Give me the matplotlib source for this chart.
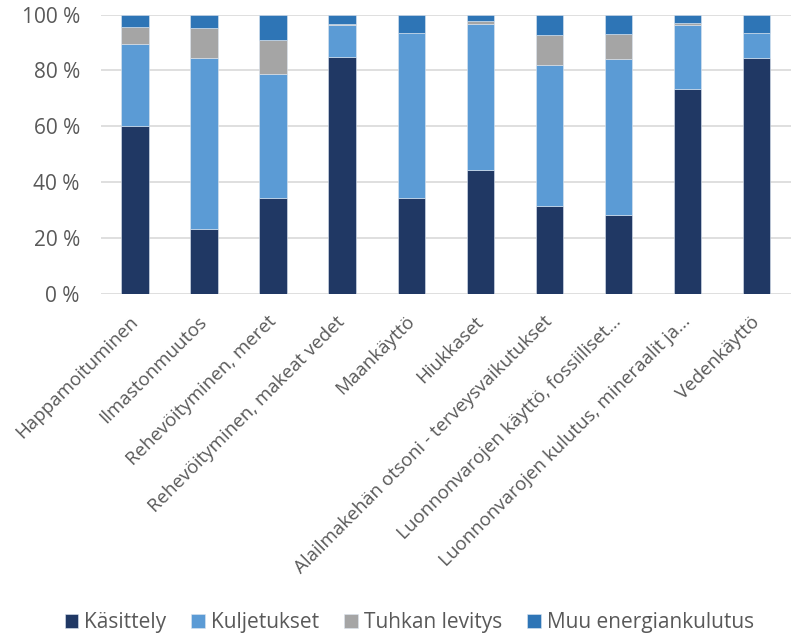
import matplotlib.pyplot as plt
import numpy as np

plt.rcParams['font.family'] = ['Open Sans', 'DejaVu Sans']

categories = ['Happamoituminen', 'Ilmastonmuutos', 'Rehevöityminen, meret',
              'Rehevöityminen, makeat vedet', 'Maankäyttö', 'Hiukkaset',
              'Alailmakehän otsoni - terveysvaikutukset',
              'Luonnonvarojen käyttö, fossiiliset...',
              'Luonnonvarojen kulutus, mineraalit ja...', 'Vedenkäyttö']

kasittely = [60.1, 23.4, 34.2, 84.7, 34.5, 44.5, 31.4, 28.4, 73.5, 84.6]
kuljetukset = [29.5, 61.2, 44.7, 11.5, 58.8, 52.3, 50.7, 55.7, 22.9, 8.7]
tuhka = [6.0, 10.7, 11.9, 0.3, 0.2, 0.9, 10.6, 8.9, 0.6, 0.0]
muu = [4.4, 4.7, 9.2, 3.5, 6.5, 2.3, 7.3, 7.0, 3.0, 6.7]

series = [('Käsittely', kasittely, '#203864'),
          ('Kuljetukset', kuljetukset, '#5B9BD5'),
          ('Tuhkan levitys', tuhka, '#A5A5A5'),
          ('Muu energiankulutus', muu, '#2E75B6')]

txt = '#595959'
fig = plt.figure(figsize=(7.92, 6.33), dpi=100)
ax = fig.add_axes([0.127, 0.5355, 0.872, 0.4415])

x = np.arange(len(categories))
bottom = np.zeros(len(categories))
for name, vals, col in series:
    ax.bar(x, vals, 0.4, bottom=bottom, color=col, label=name,
           edgecolor='#DDE6F0', linewidth=0.4, zorder=3)
    bottom += np.array(vals)

ax.set_xlim(-0.5, len(categories) - 0.5)
ax.set_ylim(0, 100)
ax.set_yticks(np.arange(0, 101, 20))
ax.set_yticklabels([f'{v} %' for v in range(0, 101, 20)], color=txt, fontsize=15)
ax.yaxis.grid(True, color='#D9D9D9', linewidth=1.2, zorder=0)
ax.tick_params(length=0)
ax.tick_params(axis='y', pad=15)
ax.tick_params(axis='x', pad=18)
ax.set_xticks(x)
ax.set_xticklabels(categories, rotation=45, ha='right', va='center',
                   rotation_mode='anchor', color=txt, fontsize=13.5)
for s in ax.spines.values():
    s.set_visible(False)

fig.legend(loc='lower center', bbox_to_anchor=(0.517, -0.03), ncol=4, frameon=False,
           fontsize=15, labelcolor=txt, handlelength=0.65, handleheight=0.65,
           handletextpad=0.3, columnspacing=1.2)

fig.savefig('out.png', dpi=100)
